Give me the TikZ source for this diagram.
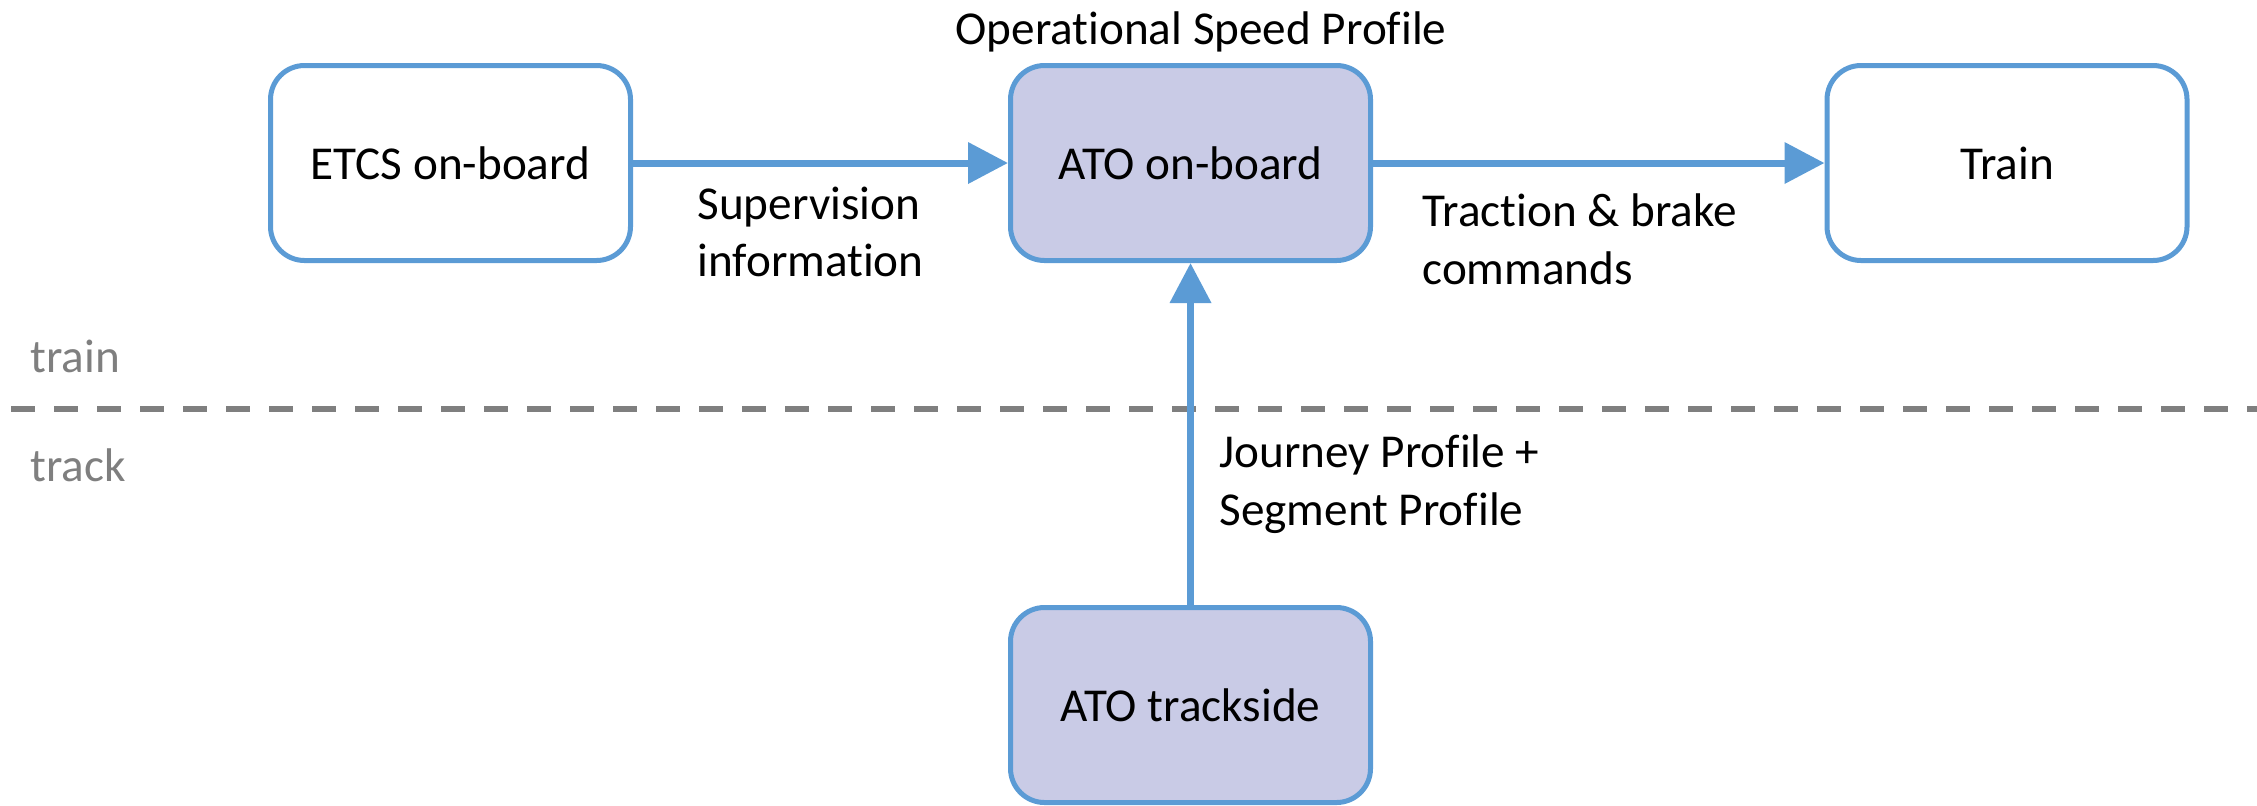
\documentclass[tikz,border=0pt]{standalone}
\usepackage{fontspec}
\setmainfont{Carlito}[Ligatures=NoCommon]
\usetikzlibrary{arrows.meta}
\definecolor{edgeblue}{HTML}{5B9BD5}
\definecolor{boxfill}{HTML}{C9CBE6}
\definecolor{divgray}{HTML}{7F7F7F}
\tikzset{
  txt/.style={font=\fontsize{23.6}{28.8}\selectfont, inner sep=0pt, text=black},
  unitbox/.style={draw=edgeblue, line width=2.5pt, rounded corners=17pt,
    minimum width=180pt, minimum height=97.5pt, txt},
  plainbox/.style={unitbox, fill=white},
  atobox/.style={unitbox, fill=boxfill},
  flow/.style={draw=edgeblue, line width=3.5pt,
    -{Triangle[length=20pt,width=20pt]}},
  lbl/.style={txt, align=left, anchor=west},
  zone/.style={txt, text=divgray, anchor=west},
  divider/.style={draw=divgray, line width=3pt, dash pattern=on 12pt off 9.5pt}
}
\begin{document}
\begin{tikzpicture}[x=0.5pt,y=-0.5pt]
  \useasboundingbox (0,0) rectangle (2257,805);

  % train / track boundary
  \coordinate (divL) at (11,409);
  \coordinate (divR) at (2257,409);
  \draw[divider] (divL) -- (divR);
  \node[zone] (trainlbl) at (30,356) {train};
  \node[zone] (tracklbl) at (30,465) {track};

  % units
  \node[plainbox] (etcs) at (450.5,163) {ETCS on-board};
  \node[atobox]   (atoob) at (1190.5,163) {ATO on-board};
  \node[plainbox] (train) at (2007,163) {Train};
  \node[atobox]   (atots) at (1190.5,705) {ATO trackside};

  \node[txt] (osp) at (1201,32) {Operational Speed Profile};

  % data flows
  \draw[flow] (etcs.east) -- (atoob.west);
  \draw[flow] (atoob.east) -- (train.west);
  \draw[flow] (atots.north) -- (atoob.south);

  \node[lbl] (supinfo) at (697,232) {Supervision\\information};
  \node[lbl] (tbcmd) at (1422,239) {Traction \& brake\\commands};
  \node[lbl] (jpsp) at (1219,484) {Journey Profile +\\Segment Profile};
\end{tikzpicture}
\end{document}
